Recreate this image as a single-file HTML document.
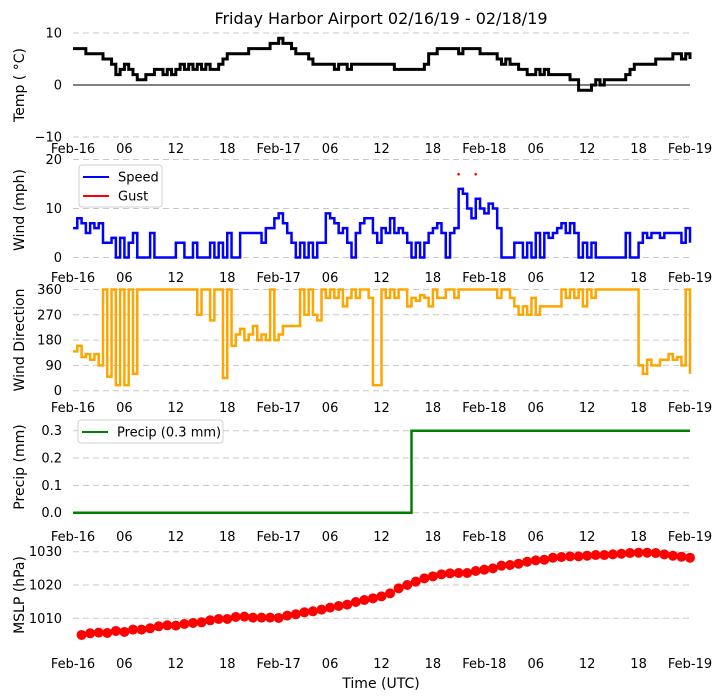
<!DOCTYPE html>
<html><head><meta charset="utf-8"><style>
html,body{margin:0;padding:0;background:#fff;}
svg{display:block;font-family:"DejaVu Sans","Liberation Sans",sans-serif;}
</style></head><body>
<svg id="chart" width="721" height="700" viewBox="0 0 721 700" xmlns="http://www.w3.org/2000/svg">
<text x="381" y="24" font-size="16" text-anchor="middle">Friday Harbor Airport 02/16/19 - 02/18/19</text>
<text x="381" y="688" font-size="14" text-anchor="middle">Time (UTC)</text>
<g id="layer"></g>
</svg>
<script>
// ---- data ----
const xTickLabels = ['Feb-16','06','12','18','Feb-17','06','12','18','Feb-18','06','12','18','Feb-19'];
// temperature (°C), every 30 min from 00Z Feb-16
const tempValues = [7,7,7,6,6,6,6,5,5,4,2,3,4,3,2,1,1,2,2,3,3,2,3,2,3,4,3,4,3,4,3,4,3,3,4,5,6,6,6,6,6,7,7,7,7,7,8,8,9,8,8,7,6,6,6,5,4,4,4,4,4,3,4,4,3,4,4,4,4,4,4,4,4,4,4,3,3,3,3,3,3,3,4,6,6,7,7,7,7,7,6,7,7,7,7,6,6,6,6,5,4,5,4,4,3,3,2,2,3,2,3,2,2,2,2,2,1,1,-1,-1,-1,0,1,0,1,1,1,1,1,2,3,4,4,4,4,4,5,5,5,5,6,6,5,6,5];
// wind speed (mph), every 30 min
const speedValues = [6,8,7,5,7,6,7,3,3,4,0,4,0,3,5,0,0,0,5,0,0,0,0,0,3,3,0,0,3,0,0,0,3,0,3,0,5,0,0,5,5,5,5,5,3,6,6,8,9,7,5,3,0,3,0,3,0,3,3,9,8,7,5,6,3,0,5,7,8,8,5,3,6,5,8,5,6,5,3,0,3,0,3,5,6,7,5,0,5,6,14,13,10,8,12,10,9,11,10,6,0,0,0,3,3,0,3,0,5,0,5,4,5,6,7,5,7,5,0,3,0,3,0,0,0,0,0,0,0,5,0,0,3,5,4,5,5,4,5,5,5,5,3,6,3];
// gust (mph) observations
const gustHours = [45,47];
const gustValues = [17,17];
// wind direction (deg), every 30 min
const dirValues = [140,160,120,130,110,130,90,360,50,360,20,360,20,360,60,360,360,360,360,360,360,360,360,360,360,360,360,360,360,270,360,360,250,360,360,45,360,160,200,220,180,200,230,180,200,180,360,180,200,230,230,230,230,360,270,360,270,250,360,330,360,330,360,300,330,360,330,360,360,330,20,20,360,330,360,330,360,360,300,330,320,340,330,300,360,330,330,360,360,330,360,360,360,360,360,360,360,360,360,330,360,360,330,300,270,300,270,330,270,300,300,300,300,300,360,330,360,330,360,300,360,330,360,360,360,360,360,360,360,360,360,360,90,60,110,90,90,110,110,130,110,120,90,360,60];
// precipitation (mm)
const precipHours = [0,39.5,72];
const precipValues = [0,0.3,0.3];
// MSLP (hPa), hourly from 01Z
const mslpValues = [1005,1005.5,1005.7,1005.6,1006.2,1005.9,1006.6,1006.6,1007,1007.6,1007.9,1007.8,1008.3,1008.6,1008.8,1009.4,1009.8,1009.8,1010.4,1010.5,1010.2,1010.2,1010.2,1010.1,1010.8,1011.2,1011.8,1012.1,1012.6,1013.2,1013.7,1014.1,1014.9,1015.5,1016,1016.6,1017.5,1019,1020,1021,1022,1022.6,1023.2,1023.5,1023.6,1023.6,1024.2,1024.6,1025,1025.8,1026,1026.4,1027,1027.4,1027.6,1028.2,1028.4,1028.6,1028.6,1028.8,1029,1029,1029.2,1029.4,1029.6,1029.7,1029.7,1029.6,1029.2,1028.8,1028.5,1028.2];

// ---- layout ----
const NS='http://www.w3.org/2000/svg';
const layer=document.getElementById('layer');
const X0=73, X1=690;
const xs=h=>X0+(X1-X0)*h/72;
function lin(v0,p0,v1,p1){return v=>p0+(v-v0)*(p1-p0)/(v1-v0);}
function mk(tag,attrs,parent){const e=document.createElementNS(NS,tag);for(const k in attrs)e.setAttribute(k,attrs[k]);(parent||layer).appendChild(e);return e;}

const panels=[
 {name:'temp',ys:lin(-10,137,10,33),ticks:[-10,0,10],tl:['\u221210','0','10'],label:'Temp ( \u00b0C)',ly:85,xl:153},
 {name:'wind',ys:lin(0,257.5,20,159.5),ticks:[0,10,20],tl:['0','10','20'],label:'Wind (mph)',ly:210,xl:282},
 {name:'direction',ys:lin(0,390.7,360,289.5),ticks:[0,90,180,270,360],tl:['0','90','180','270','360'],label:'Wind Direction',ly:340,xl:412},
 {name:'precip',ys:lin(0,512.7,0.3,430.7),ticks:[0,0.1,0.2,0.3],tl:['0.0','0.1','0.2','0.3'],label:'Precip (mm)',ly:467,xl:541},
 {name:'mslp',ys:lin(1010,618.3,1030,551.7),ticks:[1010,1020,1030],tl:['1010','1020','1030'],label:'MSLP (hPa)',ly:595,xl:668}
];

panels.forEach(p=>{
  const g=mk('g',{});
  
  
  p.ticks.forEach((t,i)=>{
    const y=p.ys(t);
    const solid=(p.name==='temp'&&t===0);
    const ln=mk('line',{x1:X0,x2:X1,y1:y,y2:y,stroke:solid?'#000':'#c8c8c8','stroke-width':1,'stroke-dasharray':solid?'none':'6,4'},g);
    
    
    const tx=mk('text',{x:62,y:y+4.5,'font-size':13,'text-anchor':'end'},g);
    tx.textContent=p.tl[i];
    
    
  });
  xTickLabels.forEach((l,i)=>{
    const tx=mk('text',{x:xs(i*6),y:p.xl,'font-size':13,'text-anchor':'middle'},g);
    tx.textContent=l;
    
    
  });
  const yl=mk('text',{x:0,y:0,'font-size':14,'text-anchor':'middle',transform:`translate(24,${p.ly}) rotate(-90)`},g);
  yl.setAttribute('transform',`translate(19,${p.ly}) rotate(-90)`);
  yl.setAttribute('dy','5');
  yl.textContent=p.label;
  
  
});

function stepPath(vals,ys,dt){
  let d='';
  vals.forEach((v,i)=>{
    const x=xs(i*dt),y=ys(v);
    if(i===0)d+=`M${x},${y}`;else d+=`V${y}`;
    const xn=xs(Math.min((i+1)*dt,72));
    d+=`H${xn}`;
  });
  return d;
}
// temp
let pth=mk('path',{d:stepPath(tempValues,panels[0].ys,0.5),fill:'none',stroke:'#000','stroke-width':3});


// speed
pth=mk('path',{d:stepPath(speedValues,panels[1].ys,0.5),fill:'none',stroke:'#0000ff','stroke-width':2.5});


gustHours.forEach((h,i)=>{
  const c=mk('circle',{cx:xs(h),cy:panels[1].ys(gustValues[i]),r:1.3,fill:'#ff0000'});
  
  
});
// direction
pth=mk('path',{d:stepPath(dirValues,panels[2].ys,0.5),fill:'none',stroke:'#ffa500','stroke-width':2.5});


// precip
let pd='';
precipHours.forEach((h,i)=>{const x=xs(h),y=panels[3].ys(precipValues[i]);pd+=(i===0?`M${x},${y}`:`H${x}V${y}`);});
pth=mk('path',{d:pd,fill:'none',stroke:'#008000','stroke-width':2.5});


// mslp
mslpValues.forEach((v,i)=>{
  const c=mk('circle',{cx:xs(i+1),cy:panels[4].ys(v),r:5,fill:'#ff0000'});
  
  
});

// legends
function legend(x,y,w,h,items,name){
  const g=mk('g',{});
  
  
  mk('rect',{x:x,y:y,width:w,height:h,rx:3,fill:'#fff','fill-opacity':0.85,stroke:'#d0d0d0'},g);
  items.forEach((it,i)=>{
    const yy=y+12+i*19;
    mk('line',{x1:x+4,x2:x+30,y1:yy,y2:yy,stroke:it.c,'stroke-width':2},g);
    const t=mk('text',{x:x+39,y:yy+4.5,'font-size':13},g);
    t.textContent=it.t;
    
    
  });
}
legend(79,165,83,42,[{c:'#0000ff',t:'Speed'},{c:'#ff0000',t:'Gust'}],'wind-legend');
legend(78,420,145,23,[{c:'#008000',t:'Precip (0.3 mm)'}],'precip-legend');
</script>
</body></html>
